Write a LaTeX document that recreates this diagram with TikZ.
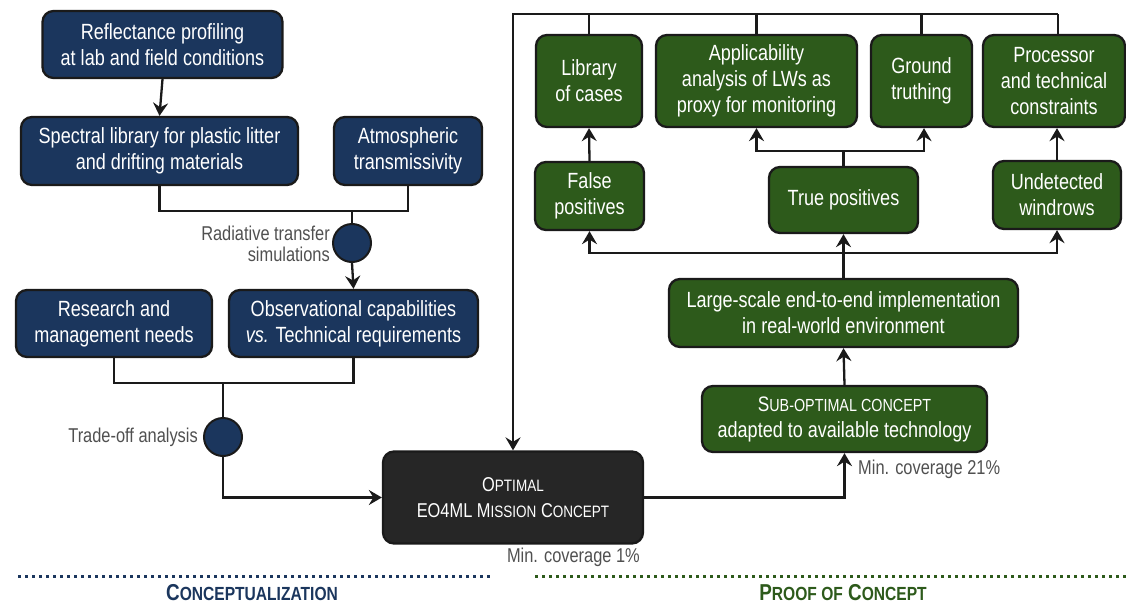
\documentclass[tikz,border=0pt]{standalone}
\usepackage{fontspec}
\setmainfont{Liberation Sans}[FakeStretch=0.82]
\usetikzlibrary{arrows.meta,calc}
\definecolor{navy}{HTML}{1B365D}
\definecolor{dgreen}{HTML}{2D5A1B}
\definecolor{dark}{HTML}{262626}
\definecolor{edge}{HTML}{1A1A1A}
\definecolor{lbl}{HTML}{505050}
\newcommand\smc[1]{{\fontsize{16.5}{16.5}\selectfont #1}}
\newcommand\smcs[1]{{\fontsize{17.5}{17.5}\selectfont #1}}
\newcommand\smcb[1]{{\fontsize{19}{19}\selectfont #1}}
\begin{document}
\begin{tikzpicture}[x=1pt,y=-1pt,
  box/.style={draw=edge,line width=2.3pt,rounded corners=11pt,text=white,align=center,
    font=\fontsize{22}{26}\selectfont,inner sep=0pt},
  nbox/.style={box,fill=navy},
  gbox/.style={box,fill=dgreen},
  dbox/.style={box,fill=dark},
  dot/.style={circle,draw=edge,line width=2pt,fill=navy,minimum size=38pt,inner sep=0pt},
  conn/.style={draw=edge,line width=2.3pt},
  arr/.style={conn,-{Stealth[length=13pt,width=15pt,inset=4.5pt]}},
  lab/.style={text=lbl,font=\fontsize{20}{21}\selectfont,inner sep=0pt}]
\useasboundingbox (0,0) rectangle (1126,605);
% left column
\node[nbox,minimum width=240pt,minimum height=67pt] (refl) at (162.5,44.5) {Reflectance profiling\\at lab and field conditions};
\node[nbox,minimum width=277pt,minimum height=68pt] (spec) at (159.5,151) {Spectral library for plastic litter\\and drifting materials};
\node[nbox,minimum width=148pt,minimum height=68pt] (atm) at (408,151) {Atmospheric\\transmissivity};
\node[dot] (c1) at (352,243) {};
\node[nbox,minimum width=196pt,minimum height=67pt] (res) at (114,323.5) {Research and\\management needs};
\node[nbox,minimum width=249pt,minimum height=67pt] (obs) at (353.5,323.5) {Observational capabilities\\\textit{vs.} Technical requirements};
\node[dot] (c2) at (223,437) {};
\node[dbox,minimum width=260pt,minimum height=92pt,font=\fontsize{20}{26}\selectfont] (opt) at (513,497.5) {O\smc{PTIMAL}\\EO4ML M\smc{ISSION} C\smc{ONCEPT}};
% right column
\node[gbox,minimum width=106pt,minimum height=92pt] (lib) at (589,81) {Library\\of cases};
\node[gbox,minimum width=201pt,minimum height=92pt] (app) at (756.5,81) {Applicability\\analysis of LWs as\\proxy for monitoring};
\node[gbox,minimum width=101pt,minimum height=92pt] (gnd) at (921.5,81) {Ground\\truthing};
\node[gbox,minimum width=142pt,minimum height=92pt] (proc) at (1054,81) {Processor\\and technical\\constraints};
\node[gbox,minimum width=109pt,minimum height=68pt] (fp) at (589.5,196) {False\\positives};
\node[gbox,minimum width=149pt,minimum height=66pt] (tp) at (843.5,200) {True positives};
\node[gbox,minimum width=128pt,minimum height=68pt] (und) at (1057,195) {Undetected\\windrows};
\node[gbox,minimum width=349pt,minimum height=68pt] (large) at (843.5,313) {Large-scale end-to-end implementation\\in real-world environment};
\node[gbox,minimum width=285pt,minimum height=66pt] (sub) at (844.5,419) {{\fontsize{21}{26}\selectfont S}\smcs{UB-OPTIMAL CONCEPT}\\adapted to available technology};
% labels
\node[lab,anchor=east,align=right] (l1) at (330,244) {Radiative transfer\\simulations};
\node[lab,anchor=east] (l2) at (198,437) {Trade-off analysis};
\node[lab,anchor=east] (l3) at (640,557) {Min. coverage 1\%};
\node[lab,anchor=west] (l4) at (858,469) {Min. coverage 21\%};
% coordinates
\coordinate (j1) at (352,211);
\coordinate (j2) at (223,383);
\coordinate (tl) at (513,14);
\coordinate (tr) at (1058,14);
\coordinate (j3) at (843.5,253);
\coordinate (j4) at (843.5,151);
% connectors left
\draw[arr] (refl.south) -- (spec.north);
\draw[conn] (spec.south) |- (j1) -| (atm.south);
\draw[conn] (j1) -- (c1.north);
\draw[arr] (c1.south) -- (obs.north);
\draw[conn] (res.south) |- (j2) -| (obs.south);
\draw[conn] (j2) -- (c2.north);
\draw[arr] (c2.south) |- (opt.west);
% connectors right
\draw[arr] (opt.east) -| (sub.south);
\draw[arr] (sub.north) -- (large.south);
\draw[conn] (large.north) -- (j3);
\draw[arr] (j3) -| (fp.south);
\draw[arr] (j3) -| (und.south);
\draw[arr] (j3) -- (tp.south);
\draw[arr] (fp.north) -- (lib.south);
\draw[conn] (tp.north) -- (j4);
\draw[arr] (j4) -| (app.south);
\draw[arr] (j4) -| ([xshift=2.5pt]gnd.south);
\draw[arr] (und.north) -- (und.north |- proc.south);
\draw[arr] (tr) -- (tl) -- (opt.north);
\draw[conn] (lib.north) -- (lib.north |- tl);
\draw[conn] (app.north) -- (app.north |- tl);
\draw[conn] (gnd.north) -- (gnd.north |- tl);
\draw[conn] (tr |- proc.north) -- (tr);
% bottom
\coordinate (d1) at (18,576);
\coordinate (d2) at (490,576);
\coordinate (d3) at (535,576);
\coordinate (d4) at (1126,576);
\draw[navy,line width=3pt,dash pattern=on 3pt off 4pt] (d1) -- (d2);
\draw[dgreen,line width=3pt,dash pattern=on 3pt off 4pt] (d3) -- (d4);
\node[text=navy,font=\bfseries\fontsize{23}{23}\selectfont,inner sep=0pt] (t1) at (252,593) {C\smcb{ONCEPTUALIZATION}};
\node[text=dgreen,font=\bfseries\fontsize{23}{23}\selectfont,inner sep=0pt] (t2) at (843,593) {P\smcb{ROOF OF} C\smcb{ONCEPT}};
\end{tikzpicture}
\end{document}
